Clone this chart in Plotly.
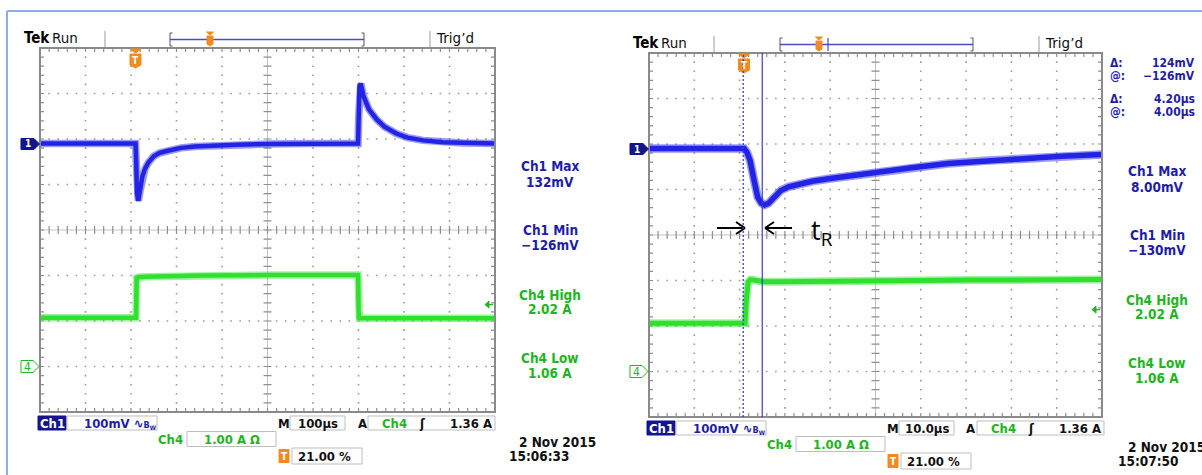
import plotly.graph_objects as go

W, H = 1202, 475

# ---------------- data ----------------
# Left capture: 100 us/div, trigger at 21 %
left_ch1_t = [-210, 0, 1.5, 3, 6, 10, 15, 21, 28, 40, 52, 66, 82, 100, 130, 167, 220, 294, 380, 489,
              490.5, 492, 495, 501, 513, 530, 547, 573, 598, 632, 675, 720, 790]
left_ch1_mv = [0, 0, -40, -110, -126, -103, -72, -55, -42, -28, -21, -17, -13, -9.5, -6.5, -4.4, -2.5, -1, 0, 0,
               60, 125, 132, 104, 75, 53, 37, 22, 13, 7, 3, 1, 0]
left_ch4_t = [-210, 1, 2.5, 5, 20, 60, 150, 300, 489, 490.5, 492, 520, 790]
left_ch4_a = [1.07, 1.07, 1.95, 1.96, 1.97, 1.98, 2.0, 2.01, 2.01, 1.07, 1.06, 1.06, 1.06]

# Right capture: 10 us/div, trigger at 21 %
right_ch1_t = [-21, 0, 0.6, 1.3, 2.2, 3.0, 3.8, 4.5, 5.4, 6.4, 7.2, 8.1, 9.8, 12, 15, 19, 24, 29, 37, 45,
               53, 62, 70, 79]
right_ch1_mv = [0, 0, -8, -26, -70, -107, -120, -124, -120, -110, -100, -92, -84, -78, -72, -66, -59, -52, -42,
                -33, -27, -21, -17, -13]
right_ch4_t = [-21, 0.2, 0.5, 0.9, 1.4, 2.5, 4.5, 8, 15, 29, 50, 79]
right_ch4_a = [1.06, 1.06, 1.6, 1.97, 2.02, 2.0, 1.97, 1.97, 1.98, 2.0, 2.01, 2.02]

left_readouts = [("Ch1 Max", "132mV"), ("Ch1 Min", "\u2212126mV"), ("Ch4 High", "2.02 A"), ("Ch4 Low", "1.06 A")]
right_readouts = [("Ch1 Max", "8.00mV"), ("Ch1 Min", "\u2212130mV"), ("Ch4 High", "2.02 A"), ("Ch4 Low", "1.06 A")]
cursor_rows = [("\u0394:", "124mV"), ("@:", "\u2212126mV"), ("\u0394:", "4.20\u00b5s"), ("@:", "4.00\u00b5s")]
cursor_t = [-0.2, 4.0]

# ---------------- styling ----------------
BLUE_TR = "#2323e6"
GREEN_TR = "#2fe02f"
BLUE_TX = "#1e1ea8"
GREEN_TX = "#22b522"
NAVY = "#15158c"
ORANGE = "#f28a1e"
COND = "DejaVu Sans Condensed, DejaVu Sans"
REG = "DejaVu Sans"


def px(x):
    return x / W


def py(y):
    return 1 - y / H


def seg(x1, y1, x2, y2):
    return f"M{px(x1):.5f},{py(y1):.5f}L{px(x2):.5f},{py(y2):.5f}"


shapes = []
annotations = []


def path_shape(d, color, width=1, layer="below", fill=None):
    s = dict(type="path", path=d, xref="paper", yref="paper", layer=layer,
             line=dict(color=color, width=width))
    if fill:
        s["fillcolor"] = fill
    shapes.append(s)


def poly(points):
    d = "M" + "L".join(f"{px(x):.5f},{py(y):.5f}" for x, y in points) + "Z"
    return d


def rect(x0, y0, x1, y1, line="#bdbdbd", fill="white", width=1, layer="below"):
    shapes.append(dict(type="rect", xref="paper", yref="paper", x0=px(x0), x1=px(x1), y0=py(y1), y1=py(y0),
                       line=dict(color=line, width=width), fillcolor=fill, layer=layer))


def txt(x, y, s, color="#111", size=13, xanchor="center", family=COND, weight="bold"):
    annotations.append(dict(x=px(x), y=py(y), xref="paper", yref="paper", text=s, showarrow=False,
                            xanchor=xanchor, yanchor="middle",
                            font=dict(color=color, size=size, family=family, weight=weight)))


def grid(x0, x1, y0, y1):
    dx = (x1 - x0) / 10
    dy = (y1 - y0) / 8
    xc = (x0 + x1) / 2
    yc = (y0 + y1) / 2
    dots = []
    for k in range(1, 10):
        if k == 5:
            continue
        X = x0 + k * dx
        for j in range(1, 40):
            Y = y0 + j * dy / 5
            dots.append(seg(X - 0.8, Y, X + 0.8, Y))
    for j in range(1, 8):
        if j == 4:
            continue
        Y = y0 + j * dy
        for i in range(1, 50):
            X = x0 + i * dx / 5
            dots.append(seg(X - 0.8, Y, X + 0.8, Y))
    path_shape("".join(dots), "#9a9a9a", 1.6)
    # center crosshair
    path_shape(seg(x0, yc, x1, yc) + seg(xc, y0, xc, y1), "#c4c4c4", 1)
    ticks = []
    for i in range(1, 50):
        X = x0 + i * dx / 5
        ticks.append(seg(X, yc - 4, X, yc + 4))
        ticks.append(seg(X, y0, X, y0 + 4))
        ticks.append(seg(X, y1 - 4, X, y1))
    for j in range(1, 40):
        Y = y0 + j * dy / 5
        ticks.append(seg(xc - 4, Y, xc + 4, Y))
        ticks.append(seg(x0, Y, x0 + 4, Y))
        ticks.append(seg(x1 - 4, Y, x1, Y))
    path_shape("".join(ticks), "#8e8e8e", 1.2)
    rect(x0, y0, x1, y1, line="#8a8a8a", fill="rgba(0,0,0,0)", width=2, layer="above")


def scope_frame(ox, oy, x0, x1, y0, y1, trig_x, readouts, tdiv_label, date, clock):
    # header
    txt(ox + 22, oy + 38, "Tek", "#000", 15, "left", COND, "bold")
    txt(ox + 50, oy + 38, "Run", "#111", 13.5, "left", REG, "normal")
    path_shape(seg(ox + 105, oy + 31, ox + 105, oy + 47) + seg(ox + 430, oy + 31, ox + 430, oy + 47), "#9a9a9a", 1)
    txt(ox + 434, oy + 38, "Trig\u2019d", "#111", 13.5, "left", REG, "normal")
    # channel markers
    gy1 = y0 + 96
    path_shape(poly([(ox + 21, gy1 - 5.5), (ox + 34, gy1 - 5.5), (ox + 39.5, gy1), (ox + 34, gy1 + 5.5),
                     (ox + 21, gy1 + 5.5)]), NAVY, 1, "above", NAVY)
    txt(ox + 27.5, gy1, "1", "white", 10, "center", COND, "bold")
    gy4 = y0 + 318.5
    path_shape(poly([(ox + 21, gy4 - 6), (ox + 33, gy4 - 6), (ox + 39, gy4), (ox + 33, gy4 + 6),
                     (ox + 21, gy4 + 6)]), GREEN_TX, 1, "above", "white")
    txt(ox + 27.5, gy4, "4", GREEN_TX, 12, "center", COND, "normal")
    # trigger marker below the top border
    path_shape(poly([(trig_x - 5.5, y0 + 1), (trig_x + 5.5, y0 + 1), (trig_x, y0 + 5)]), ORANGE, 1, "above", ORANGE)
    path_shape(poly([(trig_x - 5.5, y0 + 6), (trig_x + 5.5, y0 + 6), (trig_x + 5.5, y0 + 17), (trig_x, y0 + 20),
                     (trig_x - 5.5, y0 + 17)]), ORANGE, 1, "above", ORANGE)
    txt(trig_x, y0 + 12.5, "T", "white", 10, "center", COND, "bold")
    # ch4 trigger level arrow (1.36 A)
    ty = y0 + (7 - 1.36) * (y1 - y0) / 8
    path_shape(seg(x1 - 9, ty, x1 - 2, ty), GREEN_TX, 1.3, "above")
    path_shape(poly([(x1 - 10, ty), (x1 - 6, ty - 3.5), (x1 - 6, ty + 3.5)]), GREEN_TX, 1, "above", GREEN_TX)
    # right-hand readouts
    cx = x1 + 55
    ys = [(y0 + 118, y0 + 134), (y0 + 182, y0 + 197), (y0 + 247, y0 + 261), (y0 + 310, y0 + 325)]
    for k, ((a, b), (ya, yb)) in enumerate(zip(readouts, ys)):
        col = BLUE_TX if k < 2 else GREEN_TX
        txt(cx, ya, a, col, 13.5)
        txt(cx, yb, b, col, 13.5)
    # bottom info rows
    r1 = y1 + 11
    r2 = y1 + 27
    r3 = y1 + 44
    rect(ox + 38, r1 - 7, ox + 66, r1 + 7, line=NAVY, fill=NAVY)
    txt(ox + 52, r1, "Ch1", "white", 13)
    rect(ox + 67, r1 - 7, ox + 157, r1 + 7)
    txt(ox + 82, r1, "100mV \u223f<span style='font-size:9px'>B<sub>W</sub></span>", BLUE_TX, 13, "left")
    txt(ox + 284, r1, "M", "#111", 13)
    rect(ox + 290, r1 - 7, ox + 345, r1 + 7)
    txt(ox + 317.5, r1, tdiv_label, "#111", 13)
    txt(ox + 362, r1, "A", "#111", 13)
    rect(ox + 368, r1 - 7, ox + 495, r1 + 7)
    txt(ox + 380, r1, "Ch4", GREEN_TX, 13, "left")
    txt(ox + 422, r1, "\u0283", "#111", 13)
    txt(ox + 494, r1, "1.36 A", "#111", 13, "right")
    txt(ox + 185, r2, "Ch4", GREEN_TX, 13, "right")
    rect(ox + 187, r2 - 7.5, ox + 276, r2 + 7.5)
    txt(ox + 232, r2, "1.00 A \u03a9", GREEN_TX, 13)
    rect(ox + 279, r3 - 6.5, ox + 289, r3 + 6.5, line=ORANGE, fill=ORANGE)
    txt(ox + 284, r3, "T", "white", 10)
    rect(ox + 292, r3 - 8, ox + 362, r3 + 8)
    txt(ox + 296, r3, "21.00 %", "#111", 13, "left")
    txt(ox + 598, r2 + 3, date, "#111", 13.5, "right")
    txt(ox + 507, r3, clock, "#111", 13.5, "left")


fig = go.Figure()

# geometry of the two screens
LX0, LX1, LY0, LY1 = 40, 495, 48, 412
RX0, RX1, RY0, RY1 = 649, 1102, 53, 417

grid(LX0, LX1, LY0, LY1)
grid(RX0, RX1, RY0, RY1)

scope_frame(0, 0, LX0, LX1, LY0, LY1, 135.5, left_readouts, "100\u00b5s", "2 Nov 2015", "15:06:33")
scope_frame(609, 5, RX0, RX1, RY0, RY1, 744, right_readouts, "10.0\u00b5s", "2 Nov 2015", "15:07:50")

# top record bar (left)
path_shape(seg(170, 39.5, 364, 39.5), "#4a4ad0", 1.5, "above")
path_shape(seg(170, 33, 170, 46) + seg(170, 33, 172.5, 33) + seg(170, 46, 172.5, 46)
           + seg(364, 33, 364, 46) + seg(364, 33, 361.5, 33) + seg(364, 46, 361.5, 46), "#555", 1, "above")
path_shape(poly([(206.5, 32), (213.5, 32), (210, 35)]), ORANGE, 1, "above", ORANGE)
path_shape(poly([(207, 36), (213, 36), (213, 44), (210, 46), (207, 44)]), ORANGE, 1, "above", ORANGE)
# top record bar (right)
path_shape(seg(780, 44.5, 973, 44.5), "#4a4ad0", 1.5, "above")
path_shape(seg(780, 38, 780, 51) + seg(780, 38, 782.5, 38) + seg(780, 51, 782.5, 51)
           + seg(973, 38, 973, 51) + seg(973, 38, 970.5, 38) + seg(973, 51, 970.5, 51), "#555", 1, "above")
path_shape(poly([(815.5, 37), (822.5, 37), (819, 40)]), ORANGE, 1, "above", ORANGE)
path_shape(poly([(816, 41), (822, 41), (822, 49), (819, 51), (816, 49)]), ORANGE, 1, "above", ORANGE)
path_shape(seg(828, 38, 828, 51), "#4a4ad0", 1.2, "above")

# cursor readouts (right)
for (lab, val), yy in zip(cursor_rows, [63, 76, 99, 112]):
    txt(1108, yy, lab, BLUE_TX, 12, "left")
    txt(1197, yy, val, BLUE_TX, 12, "right")

# outer frame
path_shape(seg(7, 11, 1202, 11) + seg(7, 11, 7, 475), "#8fb0dc", 2, "above")

# t_R annotation
path_shape(seg(717, 228, 745, 228) + seg(745, 228, 736, 222) + seg(745, 228, 736, 234)
           + seg(792, 228, 765, 228) + seg(765, 228, 774, 222) + seg(765, 228, 774, 234), "#000", 2, "above")
txt(809, 231, "t<sub>R</sub>", "#000", 27, "left", "Open Sans", "normal")

# traces
def add_trace(t, v, xa, ya, color, w):
    fig.add_trace(go.Scatter(x=t, y=v, xaxis=xa, yaxis=ya, mode="lines", hoverinfo="skip",
                             line=dict(color=color, width=w + 3), opacity=0.45, showlegend=False))
    fig.add_trace(go.Scatter(x=t, y=v, xaxis=xa, yaxis=ya, mode="lines", hoverinfo="skip",
                             line=dict(color=color, width=w), showlegend=False))


add_trace(left_ch4_t, left_ch4_a, "x", "y3", GREEN_TR, 4.5)
add_trace(left_ch1_t, left_ch1_mv, "x", "y", BLUE_TR, 4.5)
add_trace(right_ch4_t, right_ch4_a, "x2", "y4", GREEN_TR, 5)
add_trace(right_ch1_t, right_ch1_mv, "x2", "y2", BLUE_TR, 5.5)

# cursors (right screen) drawn with the data axes
shapes.append(dict(type="line", xref="x2", yref="y2 domain", x0=cursor_t[0], x1=cursor_t[0], y0=0, y1=1,
                   line=dict(color="#3b3bd0", width=1.3, dash="2px,2px"), layer="above"))
shapes.append(dict(type="line", xref="x2", yref="y2 domain", x0=cursor_t[1], x1=cursor_t[1], y0=0, y1=1,
                   line=dict(color="#3b3bd0", width=1.2), layer="above"))

hid = dict(visible=False, fixedrange=True)
fig.update_layout(
    width=W, height=H, autosize=False,
    margin=dict(l=0, r=0, t=0, b=0, pad=0),
    paper_bgcolor="white", plot_bgcolor="white",
    showlegend=False,
    xaxis=dict(domain=[px(LX0), px(LX1)], range=[-210, 790], anchor="y", **hid),
    yaxis=dict(domain=[py(LY1), py(LY0)], range=[-590, 210], anchor="x", **hid),
    yaxis3=dict(overlaying="y", range=[-1, 7], anchor="x", **hid),
    xaxis2=dict(domain=[px(RX0), px(RX1)], range=[-21, 79], anchor="y2", **hid),
    yaxis2=dict(domain=[py(RY1), py(RY0)], range=[-590, 210], anchor="x2", **hid),
    yaxis4=dict(overlaying="y2", range=[-1, 7], anchor="x2", **hid),
    shapes=shapes,
    annotations=annotations,
)

fig.write_html("out.html", config={"displayModeBar": False},
               post_script="document.body.style.margin='0';document.body.style.overflow='hidden';")
